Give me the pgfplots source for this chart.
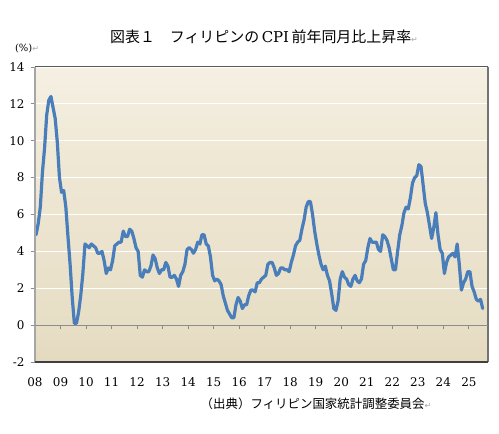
\documentclass[border=0pt]{standalone}
\usepackage{fontspec}
\usepackage{pgfplots}
\usepackage{pgfplotstable}
\pgfplotsset{compat=1.18}
\setmainfont{DejaVu Serif}
\newfontfamily\jp{Noto Sans CJK JP}
\newfontfamily\sym{DejaVu Sans}
\definecolor{cpiblue}{HTML}{4A7EBB}
\definecolor{bgtop}{HTML}{FEFDFA}
\definecolor{bgmid}{HTML}{EFE8D5}
\definecolor{bgbot}{HTML}{D3C5A0}
\pgfdeclareverticalshading{bgshade}{100bp}{color(0bp)=(bgbot); color(30bp)=(bgmid!70!bgbot); color(60bp)=(bgmid); color(100bp)=(bgtop)}
\newcommand{\ret}{{\sym\color{black!35}\fontsize{8}{8}\selectfont ↵}}
\pgfplotstableread[row sep=\\]{
v\\
4.9\\5.5\\6.4\\8.3\\9.6\\11.4\\12.2\\12.4\\11.8\\11.2\\9.9\\8.0\\
7.2\\7.3\\6.4\\4.8\\3.3\\1.5\\0.1\\0.1\\0.7\\1.6\\2.8\\4.4\\
4.3\\4.2\\4.4\\4.3\\4.2\\3.9\\3.9\\4.0\\3.5\\2.8\\3.1\\3.0\\
3.5\\4.3\\4.4\\4.5\\4.5\\5.1\\4.8\\4.8\\5.2\\5.1\\4.7\\4.2\\
4.0\\2.7\\2.6\\3.0\\2.9\\2.9\\3.2\\3.8\\3.6\\3.1\\2.8\\3.0\\
3.0\\3.4\\3.2\\2.6\\2.6\\2.7\\2.5\\2.1\\2.7\\2.9\\3.3\\4.1\\
4.2\\4.1\\3.9\\4.1\\4.5\\4.4\\4.9\\4.9\\4.4\\4.3\\3.7\\2.7\\
2.4\\2.5\\2.4\\2.2\\1.6\\1.2\\0.8\\0.6\\0.4\\0.4\\1.1\\1.5\\
1.3\\0.9\\1.1\\1.1\\1.6\\1.9\\1.9\\1.8\\2.3\\2.3\\2.5\\2.6\\
2.7\\3.3\\3.4\\3.4\\3.1\\2.7\\2.8\\3.1\\3.1\\3.0\\3.0\\2.9\\
3.4\\3.8\\4.3\\4.5\\4.6\\5.2\\5.7\\6.4\\6.7\\6.7\\6.0\\5.1\\
4.4\\3.8\\3.3\\3.0\\3.2\\2.7\\2.4\\1.7\\0.9\\0.8\\1.3\\2.5\\
2.9\\2.6\\2.5\\2.2\\2.1\\2.5\\2.7\\2.4\\2.3\\2.5\\3.3\\3.5\\
4.2\\4.7\\4.5\\4.5\\4.5\\4.1\\4.0\\4.9\\4.8\\4.6\\4.2\\3.6\\
3.0\\3.0\\4.0\\4.9\\5.4\\6.1\\6.4\\6.3\\6.9\\7.7\\8.0\\8.1\\
8.7\\8.6\\7.6\\6.6\\6.1\\5.4\\4.7\\5.3\\6.1\\4.9\\4.1\\3.9\\
2.8\\3.4\\3.7\\3.8\\3.9\\3.7\\4.4\\3.3\\1.9\\2.3\\2.5\\2.9\\
2.9\\2.1\\1.8\\1.4\\1.3\\1.4\\0.9\\
}\cpi
\begin{document}
\begin{tikzpicture}
\path[use as bounding box, fill=white] (0,0) rectangle (499bp,434bp);
\begin{axis}[
  at={(35bp,72bp)}, anchor=south west,
  scale only axis, width=453bp, height=295bp,
  xmin=-0.5, xmax=212.5, ymin=-2, ymax=14,
  ytick={-2,0,...,14},
  xtick={-0.5,11.5,...,203.5},
  xticklabels={08,09,10,11,12,13,14,15,16,17,18,19,20,21,22,23,24,25},
  /pgf/number format/assume math mode=true,
  tick label style={font=\fontsize{12}{12}\selectfont},
  axis line style={draw=none},
  x tick style={draw=none},
  y tick style={draw=black!45, line width=0.8bp},
  ytick pos=left, tick align=outside, major tick length=4bp,
  ymajorgrids, major grid style={draw=white, line width=1.1bp},
  yticklabel style={xshift=-3bp},
  xticklabel style={yshift=-8bp},
  axis background/.style={shading=bgshade},
  clip=false,
]
\addplot[cpiblue, line width=3.2bp, line join=round, line cap=round] table[x expr=\coordindex, y=v] {\cpi};
\draw[black!35, line width=1.2bp] (rel axis cs:0,0) -- (rel axis cs:0,1);
\draw[black!65, line width=1bp] (rel axis cs:0,1) -- (rel axis cs:1,1);
\draw[black!55, line width=2bp] (rel axis cs:1,1) -- (rel axis cs:1,0);
\draw[black!75, line width=1.6bp] (rel axis cs:0,0) -- (rel axis cs:1,0);
\end{axis}
\begin{axis}[
  at={(35bp,72bp)}, anchor=south west,
  scale only axis, width=453bp, height=295bp,
  xmin=-0.5, xmax=212.5, ymin=-2, ymax=14,
  axis x line=middle, axis y line=none,
  axis line style={-, draw=black!45, line width=1bp},
  xtick={11.5,23.5,...,203.5}, xticklabels={},
  x tick style={draw=black!45, line width=1bp},
  tick align=outside, major tick length=4bp,
]
\end{axis}
\node at (264bp,397bp) {\fontsize{15}{15}\selectfont\jp 図表１　フィリピンの\,{\rmfamily CPI}\,前年同月比上昇率\ret};
\node at (27bp,386bp) {\fontsize{10}{10}\selectfont(\%)\ret};
\node at (316bp,30bp) {\fontsize{12.5}{13}\selectfont\jp（出典）フィリピン国家統計調整委員会\ret};
\end{tikzpicture}
\end{document}
